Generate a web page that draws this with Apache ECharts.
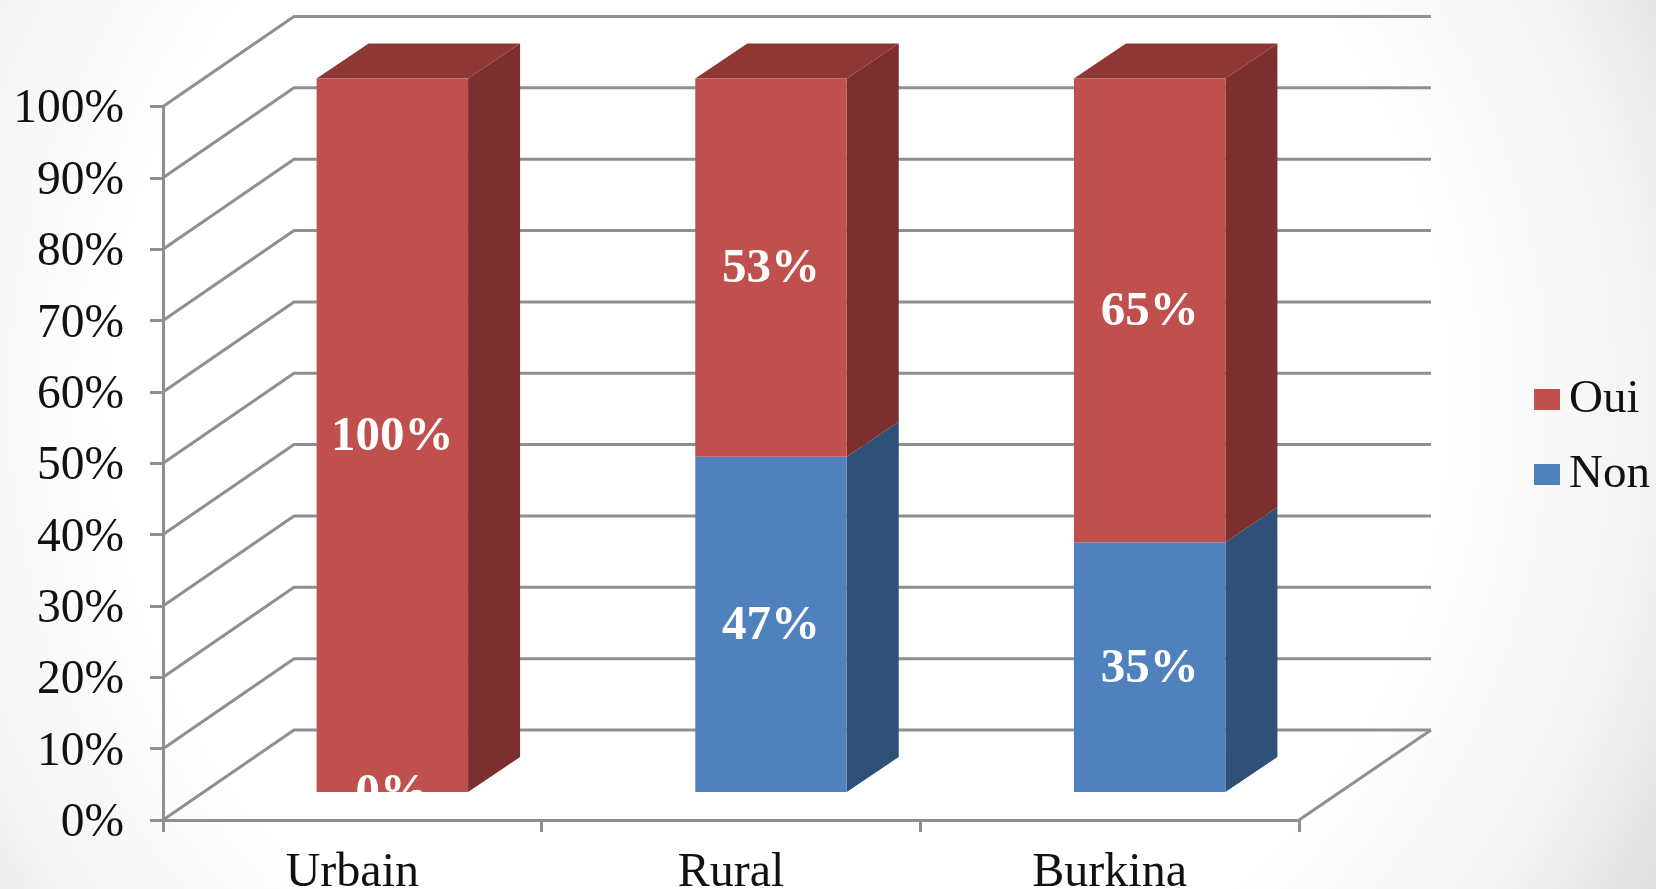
<!DOCTYPE html>
<html><head><meta charset="utf-8">
<style>html,body{margin:0;padding:0;background:#fff;overflow:hidden}#c{width:1656px;height:889px;filter:blur(0.6px)}</style>
<script src="https://cdn.jsdelivr.net/npm/echarts@6/dist/echarts.min.js"></script>
</head><body><div id="c"></div>
<script>
const categories = ['Urbain','Rural','Burkina'];
const nonValues = [0,47,35];
const ouiValues = [100,53,65];
const tickValues = [0,10,20,30,40,50,60,70,80,90,100];

const SERIF = '"Liberation Serif","Times New Roman",serif';
const GREY = '#8f8f8f';
const WALL = {dx:131, dy:90};
const FRONT = {dx:40, dy:28};
const DEPTH = {dx:52, dy:35};
const BAR_RATIO = 0.4;

function wallItem(params, api){
  const v = api.value(1);
  const p = api.coord([0,v]);
  const band = api.size([1,0])[0];
  const L = p[0]-band/2, R = L+band*categories.length, y = p[1];
  const children = [{type:'polyline',shape:{points:[[L,y],[L+WALL.dx,y-WALL.dy],[R+WALL.dx+1,y-WALL.dy]]},
    style:{stroke:GREY,lineWidth:3,fill:null}}];
  if(v===0) children.push({type:'line',shape:{x1:R,y1:y,x2:R+WALL.dx+1,y2:y-WALL.dy},style:{stroke:GREY,lineWidth:3}});
  return {type:'group',children};
}

function barRenderer(front, side, top, withTop, baseOf){
  return function(params, api){
    const i = api.value(0), v = api.value(1), b = baseOf(i);
    const p0 = api.coord([i,b]), p1 = api.coord([i,b+v]);
    const w = api.size([1,0])[0]*BAR_RATIO;
    const x0 = p0[0]+FRONT.dx-w/2, x1 = x0+w;
    const y0 = p0[1]-FRONT.dy, y1 = p1[1]-FRONT.dy;
    const children = [];
    if(v>0){
      children.push({type:'polygon',shape:{points:[[x1,y0],[x1+DEPTH.dx,y0-DEPTH.dy],[x1+DEPTH.dx,y1-DEPTH.dy],[x1,y1]]},style:{fill:side}});
      if(withTop) children.push({type:'polygon',shape:{points:[[x0,y1],[x0+DEPTH.dx,y1-DEPTH.dy],[x1+DEPTH.dx,y1-DEPTH.dy],[x1,y1]]},style:{fill:top}});
      children.push({type:'rect',shape:{x:x0,y:y1,width:w,height:y0-y1},style:{fill:front}});
    }
    return {type:'group',children};
  };
}

function labelRenderer(baseOf){
  return function(params, api){
    const i = api.value(0), v = api.value(1), b = baseOf(i);
    const p0 = api.coord([i,b]), p1 = api.coord([i,b+v]);
    return {type:'text',style:{text:v+'%',x:p0[0]+FRONT.dx,y:(p0[1]+p1[1])/2-FRONT.dy+2,fill:'#fff',
      font:'bold 49px '+SERIF,align:'center',verticalAlign:'middle'}};
  };
}

const chart = echarts.init(document.getElementById('c'));
chart.setOption({
  animation:false,
  backgroundColor:{type:'radial',x:0.47,y:0.45,r:1.13,colorStops:[
    {offset:0,color:'#ffffff'},{offset:0.66,color:'#ffffff'},{offset:0.87,color:'#f3f3f3'},{offset:1,color:'#dedede'}]},
  grid:{left:163,right:357,top:106.5,bottom:69,outerBoundsMode:'none',containLabel:false},
  legend:{left:1529,top:371,orient:'vertical',itemWidth:26,itemHeight:21,itemGap:28,icon:'rect',
    data:['Oui','Non'],textStyle:{fontFamily:SERIF,fontSize:47,color:'#111',padding:[0,0,0,4]}},
  xAxis:{type:'category',data:categories,boundaryGap:true,
    axisLine:{lineStyle:{color:GREY,width:3}},
    axisTick:{show:true,length:12,lineStyle:{color:GREY,width:3}},
    axisLabel:{fontFamily:SERIF,fontSize:48,color:'#111',margin:29}},
  yAxis:{type:'value',min:0,max:100,interval:10,
    axisLine:{show:true,lineStyle:{color:GREY,width:3}},
    axisTick:{show:true,length:13,lineStyle:{color:GREY,width:3}},
    splitLine:{show:false},
    axisLabel:{margin:39,formatter:'{t|{value}%}',verticalAlign:'middle',
      rich:{t:{fontFamily:SERIF,fontSize:47.5,color:'#111',lineHeight:48,padding:[7,0,0,0]}}}},
  series:[
    {type:'custom',name:'walls',z:1,silent:true,renderItem:wallItem,
      data:tickValues.map(v=>[0,v])},
    {type:'custom',name:'Non',z:2,itemStyle:{color:'#4F81BD'},
      renderItem:barRenderer('#4F81BD','#2F5077','#3A6190',false,()=>0),
      data:nonValues.map((v,i)=>[i,v])},
    {type:'custom',name:'Oui',z:3,itemStyle:{color:'#C0504D'},
      renderItem:barRenderer('#C0504D','#7B2F2E','#8E3735',true,i=>nonValues[i]),
      data:ouiValues.map((v,i)=>[i,v])},
    {type:'custom',name:'NonLabels',z:4,silent:true,renderItem:labelRenderer(()=>0),
      data:nonValues.map((v,i)=>[i,v])},
    {type:'custom',name:'OuiLabels',z:4,silent:true,renderItem:labelRenderer(i=>nonValues[i]),
      data:ouiValues.map((v,i)=>[i,v])}
  ]
});
</script></body></html>
